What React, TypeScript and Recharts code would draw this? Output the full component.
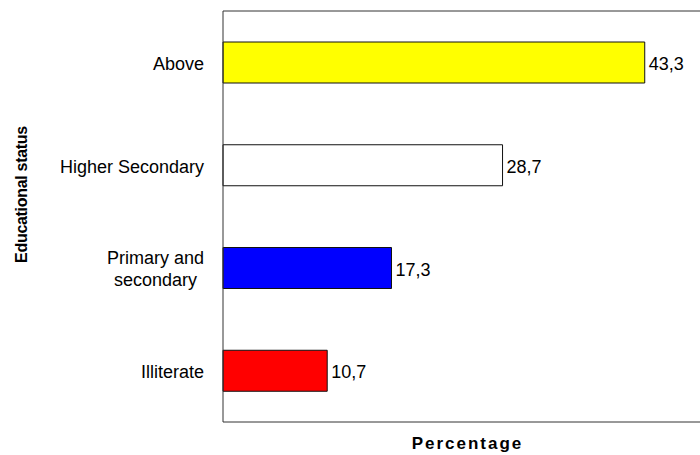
import React from 'react';
import { BarChart, Bar, XAxis, YAxis, Cell, LabelList, Label } from 'recharts';

// Educational status vs percentage (top to bottom as drawn)
const categories = ['Above', 'Higher Secondary', 'Primary and\nsecondary', 'Illiterate'];
const percentages = [43.3, 28.7, 17.3, 10.7];
const barFills = ['#ffff00', '#ffffff', '#0000ff', '#ff0000'];

const data = categories.map((name, i) => ({ name, value: percentages[i] }));

const FONT = "'Liberation Sans', Arial, sans-serif";

let measureCtx: CanvasRenderingContext2D | null = null;
const textWidth = (s: string, font: string) => {
    if (!measureCtx) measureCtx = document.createElement('canvas').getContext('2d');
    if (!measureCtx) return s.length * 9;
    measureCtx.font = font;
    return measureCtx.measureText(s).width;
};

const CategoryTick = (props: any) => {
    const { x, y, payload } = props;
    const lines = String(payload.value).split('\n');
    const multi = lines.length > 1;
    const widest = Math.max(...lines.map((l) => textWidth(l, `18px ${FONT}`)));
    const lx = multi ? x - widest / 2 : x;
    const first = 7.5 - (lines.length - 1) * 11;
    return (
        <text
            textAnchor={multi ? 'middle' : 'end'}
            fontSize={18}
            fontFamily={FONT}
            fill="#000"
        >
            {lines.map((l, i) => (
                <tspan key={i} x={lx} y={y + first + i * 22}>
                    {l}
                </tspan>
            ))}
        </text>
    );
};

const ValueLabel = (props: any) => {
    const { x, y, width, height, value } = props;
    return (
        <text
            x={Number(x) + Number(width) + 4}
            y={Number(y) + Number(height) / 2 + 7.5}
            fontSize={18}
            fontFamily={FONT}
            fill="#000"
        >
            {Number(value).toFixed(1).replace('.', ',')}
        </text>
    );
};

const YTitle = ({ viewBox }: any) => {
    const cx = viewBox.x + 26.5;
    const cy = viewBox.y + viewBox.height / 2 - 22;
    return (
        <text
            x={cx}
            y={cy}
            transform={`rotate(-90 ${cx} ${cy})`}
            textAnchor="middle"
            fontSize={16}
            fontWeight="bold"
            fontFamily={FONT}
            letterSpacing={-0.3}
            fill="#000"
        >
            Educational status
        </text>
    );
};

const XTitle = ({ viewBox }: any) => {
    const cx = viewBox.x + viewBox.width / 2 + 1;
    return (
        <text
            x={cx}
            y={449}
            textAnchor="middle"
            fontSize={17}
            fontWeight="bold"
            fontFamily={FONT}
            letterSpacing={2}
            fill="#000"
        >
            Percentage
        </text>
    );
};

export default function App() {
    return (
        <div
            style={{
                position: 'absolute',
                left: 0,
                top: 0,
                width: 700,
                height: 455,
                overflow: 'hidden',
                background: '#fff',
            }}
        >
            <BarChart
                width={720}
                height={455}
                data={data}
                layout="vertical"
                margin={{ top: 10, right: 10, left: 0, bottom: 0 }}
            >
                <XAxis
                    xAxisId="top"
                    orientation="top"
                    type="number"
                    domain={[0, 50]}
                    height={1}
                    tick={false}
                    tickLine={false}
                    axisLine={{ stroke: '#333' }}
                />
                <XAxis
                    type="number"
                    domain={[0, 50]}
                    height={33}
                    tick={false}
                    tickLine={false}
                    axisLine={{ stroke: '#333' }}
                >
                    <Label content={<XTitle />} />
                </XAxis>
                <YAxis
                    type="category"
                    dataKey="name"
                    width={223}
                    tickSize={0}
                    tickMargin={19}
                    tickLine={false}
                    axisLine={{ stroke: '#333' }}
                    tick={<CategoryTick />}
                    interval={0}
                >
                    <Label content={<YTitle />} />
                </YAxis>
                <Bar
                    dataKey="value"
                    barSize={41}
                    stroke="#111"
                    strokeWidth={1}
                    isAnimationActive={false}
                >
                    {data.map((d, i) => (
                        <Cell key={d.name} fill={barFills[i]} />
                    ))}
                    <LabelList dataKey="value" content={<ValueLabel />} />
                </Bar>
            </BarChart>
        </div>
    );
}
